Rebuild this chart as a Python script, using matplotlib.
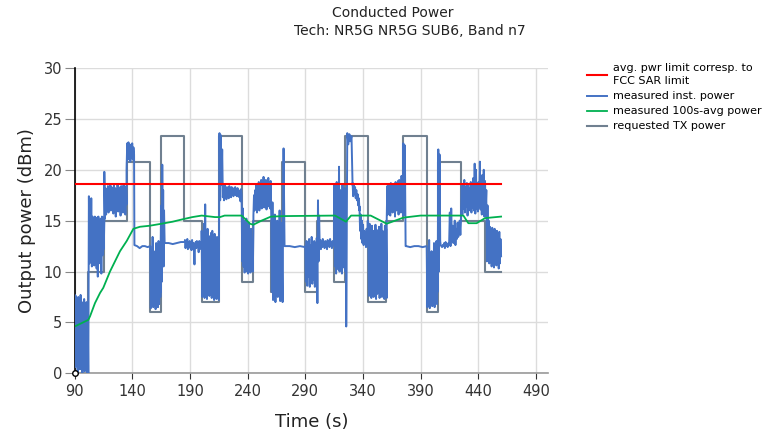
import matplotlib.pyplot as plt
import numpy as np

# requested TX power (step, value holds until next time)
tx_time = [90, 101.8, 115.7, 135.1, 155.3, 164.8, 184.8, 200.1, 215.1, 234.8, 244.9,
           260.2, 270.2, 290.1, 299.9, 315.2, 324.8, 344.7, 360.0, 374.5, 395.3, 404.8,
           425.1, 445.9, 459.8]
tx_power = [0, 10, 15, 20.8, 6, 23.3, 15, 7, 23.3, 9, 15,
            8, 20.8, 8, 15, 9, 23.3, 7, 15, 23.3, 6, 20.8,
            15, 10, 10]

# measured 100s-avg power
avg_time = [90, 101.8, 103.3, 107.6, 112, 114.8, 120.6, 129.3, 135.1, 140.9, 146.6, 155,
            165.4, 175, 184.2, 192, 200.1, 211.7, 216, 220, 234.8, 242, 244.9, 252,
            260.2, 272.3, 315.8, 325.3, 329.7, 346.7, 360.6, 375.1, 390, 427.1, 431.4,
            438.6, 445.9, 459.8]
avg_power = [4.6, 5.25, 5.6, 6.9, 7.9, 8.4, 10.0, 12.0, 13.0, 14.2, 14.4, 14.5,
             14.7, 14.9, 15.15, 15.35, 15.5, 15.35, 15.35, 15.5, 15.5, 14.7, 14.6, 15.0,
             15.4, 15.45, 15.5, 14.9, 15.5, 15.5, 14.7, 15.3, 15.5, 15.5, 14.75,
             14.75, 15.25, 15.4]

# FCC SAR limit
limit_time = [90, 459.8]
limit_power = [18.6, 18.6]

inst_segments = [
    (90.0, 101.8, [7.7, 0.6, 7.6, 2.0, 7.4, 0.0, 7.5, 3.2, 6.9, 0.4, 7.7, 1.5, 7.0, 0.0,
                   6.5, 2.5, 7.3, 0.2, 6.6, 1.0, 7.0, 0.0, 6.2, 0.5]),
    (101.8, 115.7, [0.0, 17.4, 10.8, 15.3, 11.5, 17.2, 10.5, 15.4, 12.0, 15.0, 10.6, 15.4,
                    11.2, 14.8, 10.3, 15.3, 9.5, 15.4, 11.0, 15.0, 10.8, 15.2, 9.8, 15.4,
                    11.6, 15.3, 12.2, 15.0]),
    (115.7, 135.0, [19.8, 15.2, 18.2, 15.6, 18.0, 16.0, 18.4, 15.8, 17.9, 16.3, 18.6, 16.0,
                    18.3, 16.5, 18.0, 15.7, 18.5, 16.2, 18.2, 15.4, 18.1, 16.4, 18.6, 15.9,
                    18.3, 16.1, 18.0, 15.5, 18.4, 16.3, 18.2, 15.8, 18.5, 16.2, 18.1, 15.6,
                    18.3, 16.6]),
    (135.0, 141.5, [20.0, 22.6, 21.0, 22.7, 21.3, 22.5, 20.8, 22.4, 21.2, 22.6, 21.0, 22.2,
                    21.5]),
    (141.8, 155.5, [12.6, 12.5, 12.3, 12.5, 12.5, 12.4, 12.5]),
    (155.5, 164.8, [12.5, 6.4, 11.8, 7.0, 13.4, 6.5, 12.0, 8.0, 11.5, 6.3, 12.8, 7.2, 11.0,
                    6.5, 13.0, 6.8, 12.2, 7.5, 14.5]),
    (164.8, 167.5, [8.0, 16.5, 9.0, 20.5, 12.0, 18.0, 10.5, 16.0]),
    (168.0, 185.6, [12.8, 12.8, 12.7, 12.8, 12.9, 12.9]),
    (185.6, 200.1, [13.1, 12.3, 12.9, 12.4, 13.2, 12.2, 12.8, 12.5, 13.0, 12.3, 12.9, 12.1,
                    13.1, 12.4, 12.8, 12.2, 10.7, 12.6, 12.9, 12.3, 13.0, 12.4, 12.8, 11.9,
                    13.0, 12.2, 12.9, 12.4, 12.8]),
    (200.1, 215.0, [14.0, 7.5, 13.6, 8.2, 14.7, 7.4, 16.6, 8.0, 13.2, 7.3, 14.2, 9.0, 13.5,
                    7.6, 12.8, 8.5, 13.8, 7.4, 14.0, 7.8, 13.0, 7.2, 13.7, 8.6, 12.5, 7.3,
                    13.4, 7.6, 12.0, 7.2]),
    (215.0, 218.5, [9.0, 23.6, 17.0, 23.4, 18.5, 22.0, 17.5]),
    (218.5, 234.8, [17.3, 18.4, 17.0, 18.5, 17.4, 18.2, 17.1, 18.3, 17.5, 18.0, 17.2, 18.4,
                    17.6, 18.1, 17.3, 18.3, 17.6, 18.2, 17.4, 18.0, 17.7, 18.3, 17.5, 18.1,
                    17.4, 18.2, 17.6, 18.0, 17.3, 17.9, 16.9, 18.1, 17.5]),
    (234.8, 245.0, [17.0, 11.0, 16.2, 10.5, 15.0, 9.9, 14.6, 12.0, 15.2, 10.0, 13.8, 9.8,
                    14.8, 10.4, 13.5, 9.9, 14.2, 11.0, 13.0, 10.0, 14.0]),
    (245.0, 260.5, [15.5, 17.5, 16.0, 18.0, 16.2, 18.6, 15.8, 18.2, 16.4, 18.8, 16.0, 18.5,
                    16.6, 19.0, 16.2, 18.4, 16.8, 19.3, 16.3, 18.6, 16.5, 19.0, 16.1, 18.7,
                    16.6, 19.2, 16.4, 18.5, 16.2, 18.9, 15.6]),
    (260.5, 270.3, [15.2, 8.0, 16.8, 7.2, 14.5, 9.0, 15.6, 7.0, 13.8, 8.2, 15.0, 7.5, 14.2,
                    8.8, 16.0, 7.1, 13.5, 7.8, 14.8, 7.0]),
    (270.3, 272.0, [10.0, 22.1, 12.5]),
    (272.0, 289.8, [12.5, 12.5, 12.4, 12.5, 12.4]),
    (290.0, 300.5, [12.5, 9.0, 13.0, 8.6, 12.0, 9.5, 13.2, 8.5, 12.6, 9.8, 13.4, 8.8, 12.2,
                    9.2, 13.0, 8.5, 12.8, 10.0, 13.3, 6.9]),
    (300.5, 302.5, [6.9, 17.0, 11.0, 15.5, 12.5]),
    (302.5, 315.2, [12.6, 13.1, 12.2, 12.9, 12.4, 13.2, 12.5, 12.8, 12.3, 13.0, 12.6, 12.9,
                    12.2, 13.1, 12.5, 12.8, 12.4, 13.2, 12.6, 12.9, 12.3, 13.0, 12.7, 12.9,
                    12.5]),
    (315.2, 325.3, [18.5, 10.5, 17.0, 9.8, 18.8, 11.0, 16.5, 10.2, 20.3, 10.0, 18.0, 11.5,
                    17.5, 9.8, 18.6, 10.4, 16.8, 11.0, 18.2, 10.0, 17.2]),
    (325.5, 331.0, [4.6, 23.6, 22.5, 23.5, 22.8, 23.3, 18.5]),
    (331.0, 337.0, [18.7, 17.4, 18.5, 17.6, 18.3, 17.2, 18.0, 17.0, 17.6, 16.5, 17.2, 16.0]),
    (337.0, 344.7, [16.4, 14.0, 15.6, 13.2, 15.0, 12.8, 14.6, 12.6, 14.0, 13.0, 13.6, 12.4,
                    14.2, 12.8, 15.0, 12.5]),
    (344.7, 360.6, [14.2, 7.6, 14.7, 8.0, 13.8, 7.4, 14.5, 9.0, 14.0, 7.5, 13.5, 8.2, 14.6,
                    7.3, 14.1, 7.8, 13.8, 8.5, 14.4, 7.4, 13.6, 7.9, 14.7, 7.5, 14.0, 8.0,
                    13.9, 7.3, 14.5, 7.7, 14.2, 7.4]),
    (360.6, 375.0, [15.0, 18.4, 15.6, 18.6, 16.0, 18.2, 15.5, 18.7, 16.2, 18.5, 15.8, 18.3,
                    16.4, 18.6, 15.4, 18.8, 16.0, 18.4, 16.3, 18.9, 15.6, 19.0, 16.1, 18.7,
                    15.8, 19.4, 16.0, 19.2, 15.5]),
    (375.0, 377.0, [22.6, 17.0, 22.4, 12.5]),
    (377.4, 395.3, [12.5, 12.4, 12.5, 12.5, 12.4, 12.5]),
    (395.3, 404.8, [12.5, 6.5, 11.2, 7.2, 13.1, 6.4, 11.0, 8.0, 12.0, 6.6, 11.5, 7.0, 12.8,
                    6.5, 11.8, 7.5, 13.0, 6.8, 12.4]),
    (404.8, 407.0, [8.0, 22.0, 10.0, 21.5, 13.0]),
    (407.4, 425.1, [12.6, 12.5, 12.4, 12.6, 12.5, 12.8, 12.3, 12.9, 12.5, 12.7, 12.4, 12.8,
                    12.6, 15.8, 12.5, 16.2, 13.0, 14.5, 12.8, 13.5, 15.0, 12.6, 14.2, 13.2,
                    14.8, 13.4, 14.0, 15.0, 13.6, 15.2]),
    (425.1, 447.0, [16.0, 18.4, 15.6, 18.6, 16.2, 19.0, 15.8, 18.3, 16.4, 18.7, 15.5, 18.5,
                    16.0, 18.2, 16.5, 18.8, 15.8, 18.6, 16.3, 19.2, 16.0, 20.6, 15.7, 20.0,
                    16.2, 18.5, 15.9, 18.8, 16.4, 20.8, 16.1, 18.6, 15.6, 19.5, 16.0, 20.0,
                    15.4, 18.9, 15.8, 18.0]),
    (447.0, 459.8, [17.2, 11.0, 16.5, 11.4, 15.0, 10.8, 14.4, 11.6, 14.0, 10.5, 14.3, 11.2,
                    13.8, 10.4, 14.2, 11.0, 13.6, 10.6, 14.0, 11.4, 13.5, 10.3, 13.9, 10.8,
                    13.2, 11.5]),
]

inst_time = np.concatenate([np.linspace(a, b, len(v)) for a, b, v in inst_segments])
inst_power = np.concatenate([v for a, b, v in inst_segments])

fig = plt.figure(figsize=(7.7, 4.36), dpi=100)
ax = fig.add_axes([0.097, 0.1438, 0.6147, 0.7002])

ax.plot(limit_time, limit_power, color='#ff0000', lw=1.5, label='avg. pwr limit corresp. to\nFCC SAR limit', zorder=4)
ax.plot(inst_time, inst_power, color='#4472c4', lw=1.4, label='measured inst. power', zorder=3)
ax.plot(avg_time, avg_power, color='#00b050', lw=1.3, label='measured 100s-avg power', zorder=5)
ax.plot(tx_time, tx_power, color='#708090', lw=1.5, drawstyle='steps-post',
        label='requested TX power', zorder=2)
ax.plot(tx_time[0], tx_power[0], 'o', ms=4, mfc='white', mec='black', mew=1, clip_on=False, zorder=6)

ax.set_xlim(90, 500.5)
ax.set_ylim(0, 30)
ax.set_xticks(range(90, 491, 50))
ax.set_yticks(range(0, 31, 5))
ax.grid(True, color='#dcdcdc', lw=1.0)
ax.set_axisbelow(True)
for s in ['top', 'right']:
    ax.spines[s].set_visible(False)
ax.spines['left'].set_color('black')
ax.spines['left'].set_linewidth(1.2)
ax.spines['bottom'].set_color('#999999')
ax.spines['bottom'].set_linewidth(1.2)
ax.tick_params(axis='y', length=7, color='#888888', labelsize=10.5, labelcolor='#333333', pad=2)
ax.tick_params(axis='x', length=4, color='#333333', labelsize=10.5, labelcolor='#333333', pad=4)

ax.set_xlabel('Time (s)', fontsize=13, color='#222222', labelpad=10)
ax.set_ylabel('Output power (dBm)', fontsize=13, color='#222222', labelpad=5)

fig.text(0.51, 0.97, 'Conducted Power', ha='center', va='center', fontsize=10, color='#222222')
fig.text(0.532, 0.928, 'Tech: NR5G NR5G SUB6, Band n7', ha='center', va='center', fontsize=10, color='#222222')

leg = fig.legend(loc='upper left', bbox_to_anchor=(0.762, 0.855), frameon=False, fontsize=8,
                 handlelength=1.8, handletextpad=0.6, labelspacing=0.45, borderpad=0, borderaxespad=0)
leg.get_texts()[0].set_linespacing(1.4)

fig.savefig('out.png', dpi=100)
